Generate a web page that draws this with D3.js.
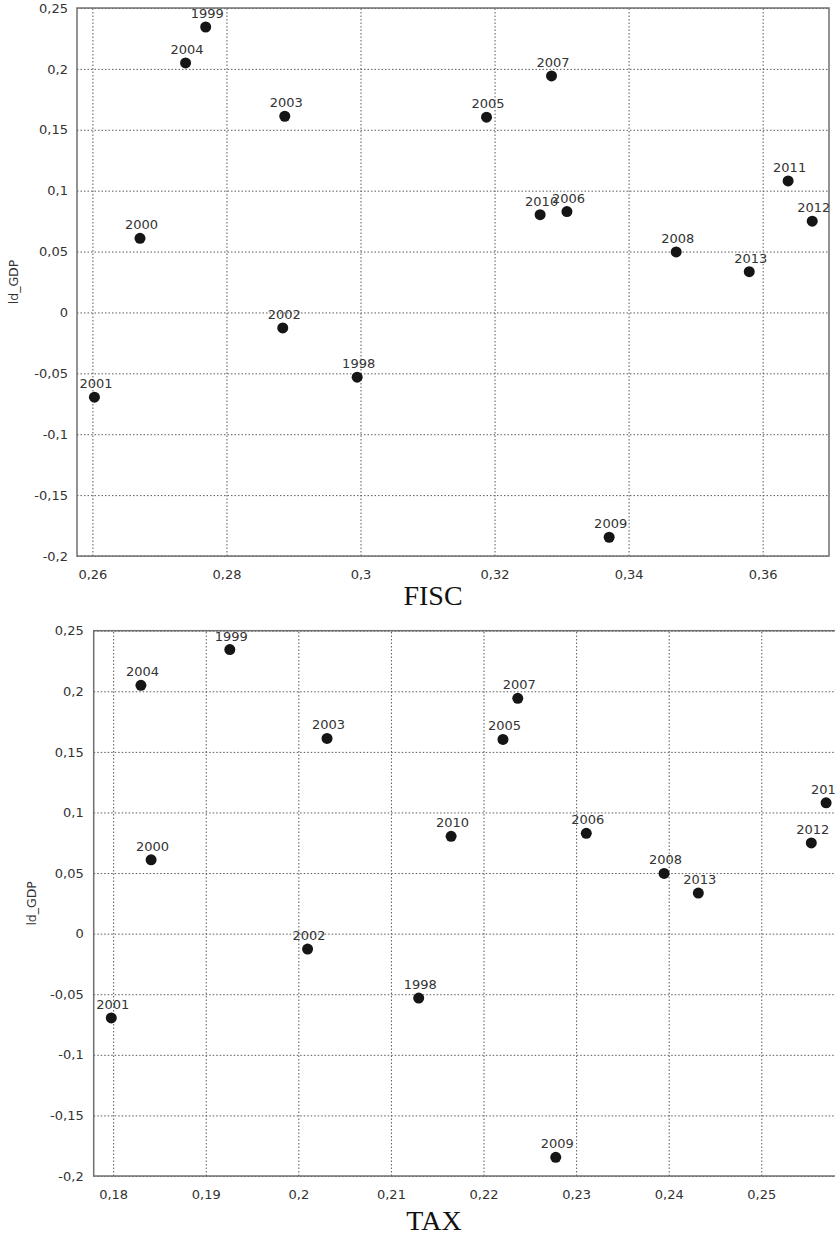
<!DOCTYPE html>
<html>
<head>
<meta charset="utf-8">
<script src="https://cdn.jsdelivr.net/npm/d3@7"></script>
<style>
  body { margin: 0; background: #fff; }
  svg { display: block; }
</style>
</head>
<body>
<svg id="chart" width="835" height="1236"></svg>
<script>
// data
const years = [1998, 1999, 2000, 2001, 2002, 2003, 2004, 2005, 2006, 2007, 2008, 2009, 2010, 2011, 2012, 2013];
const ldGdp = [-0.0532, 0.2344, 0.0609, -0.0696, -0.0127, 0.1611, 0.2049, 0.1603, 0.0828, 0.1942, 0.0497, -0.1846, 0.0803, 0.1080, 0.0749, 0.0335];
const fisc  = [0.2995, 0.2769, 0.2671, 0.2603, 0.2884, 0.2887, 0.2739, 0.3188, 0.3308, 0.3285, 0.3471, 0.3371, 0.3268, 0.3638, 0.3674, 0.3580];
const tax   = [0.2130, 0.1926, 0.1841, 0.1798, 0.2010, 0.2031, 0.1830, 0.2221, 0.2311, 0.2237, 0.2395, 0.2278, 0.2165, 0.2570, 0.2554, 0.2432];

const yTicks = [0.25, 0.2, 0.15, 0.1, 0.05, 0, -0.05, -0.1, -0.15, -0.2];
const fiscTicks = [0.26, 0.28, 0.3, 0.32, 0.34, 0.36];
const taxTicks = [0.18, 0.19, 0.2, 0.21, 0.22, 0.23, 0.24, 0.25];

const comma = d => String(+d.toFixed(4)).replace(".", ",");

const svg = d3.select("#chart");

function drawPanel(opts) {
    const x = d3.scaleLinear().domain(opts.xDomain).range([opts.left, opts.right]);
    const y = d3.scaleLinear().domain([-0.2, 0.25]).range([opts.bottom, opts.top]);
    const w = opts.right - opts.left;
    const h = opts.bottom - opts.top;

    const g = svg.append("g");

    // grid
    g.append("g")
        .attr("class", "grid")
        .attr("transform", `translate(0,${opts.bottom})`)
        .call(d3.axisBottom(x).tickValues(opts.xTicks).tickSize(-h).tickFormat(""));
    g.append("g")
        .attr("class", "grid")
        .attr("transform", `translate(${opts.left},0)`)
        .call(d3.axisLeft(y).tickValues(yTicks).tickSize(-w).tickFormat(""));
    g.selectAll(".grid .domain").remove();
    g.selectAll(".grid line")
        .attr("stroke", "#5a5a5a")
        .attr("stroke-width", 1)
        .attr("stroke-dasharray", "1.5,2");

    // frame
    g.append("rect")
        .attr("x", opts.left)
        .attr("y", opts.top)
        .attr("width", w)
        .attr("height", h)
        .attr("fill", "none")
        .attr("stroke", "#707070")
        .attr("stroke-width", 1.5);

    // tick labels
    const xa = g.append("g")
        .attr("transform", `translate(0,${opts.bottom})`)
        .call(d3.axisBottom(x).tickValues(opts.xTicks).tickSize(0).tickPadding(14).tickFormat(comma));
    const ya = g.append("g")
        .attr("transform", `translate(${opts.left},0)`)
        .call(d3.axisLeft(y).tickValues(yTicks).tickSize(0).tickPadding(opts.yPad).tickFormat(comma));
    [xa, ya].forEach(a => {
        a.select(".domain").remove();
        a.selectAll("text")
            .attr("font-family", "DejaVu Sans, Verdana, sans-serif")
            .attr("font-size", 13)
            .attr("fill", "#333");
    });

    // points
    const pts = years.map((yr, i) => ({ year: yr, xv: opts.xVals[i], yv: ldGdp[i] }));
    g.selectAll("circle")
        .data(pts)
        .enter()
        .append("circle")
        .attr("cx", d => x(d.xv))
        .attr("cy", d => y(d.yv))
        .attr("r", 5.5)
        .attr("fill", "#151515");

    g.selectAll(".lbl")
        .data(pts)
        .enter()
        .append("text")
        .attr("class", "lbl")
        .attr("x", d => x(d.xv) + 1.5)
        .attr("y", d => y(d.yv) - 9)
        .attr("text-anchor", "middle")
        .attr("font-family", "DejaVu Sans, Verdana, sans-serif")
        .attr("font-size", 13)
        .attr("fill", "#333")
        .text(d => d.year);

    // axis titles
    g.append("text")
        .attr("x", opts.titleX)
        .attr("y", opts.titleY)
        .attr("text-anchor", "middle")
        .attr("font-family", "Liberation Serif, Times New Roman, serif")
        .attr("font-size", 28)
        .attr("fill", "#111")
        .text(opts.xTitle);

    g.append("text")
        .attr("transform", `translate(${opts.yLabelX},${(opts.top + opts.bottom) / 2}) rotate(-90)`)
        .attr("text-anchor", "middle")
        .attr("font-family", "DejaVu Sans, Verdana, sans-serif")
        .attr("font-size", 12.5)
        .attr("fill", "#333")
        .text("ld_GDP");
}

drawPanel({
    xVals: fisc, xTicks: fiscTicks, xDomain: [0.2577, 0.3699], xTitle: "FISC",
    left: 77, right: 829, top: 8, bottom: 556,
    yPad: 9, titleX: 433, titleY: 605, yLabelX: 18
});

drawPanel({
    xVals: tax, xTicks: taxTicks, xDomain: [0.1779, 0.2585], xTitle: "TAX",
    left: 93.7, right: 840, top: 630.7, bottom: 1176,
    yPad: 10, titleX: 434, titleY: 1230, yLabelX: 35.5
});
</script>
</body>
</html>
